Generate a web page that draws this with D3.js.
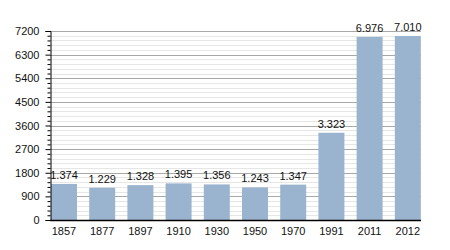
<!DOCTYPE html>
<html><head><meta charset="utf-8">
<script src="https://cdn.jsdelivr.net/npm/d3@7"></script>
<style>html,body{margin:0;padding:0;background:#fff;}svg{display:block;}</style>
</head><body>
<svg id="c" width="450" height="250"></svg>
<script>
const years = ["1857","1877","1897","1910","1930","1950","1970","1991","2011","2012"];
const population = [1374,1229,1328,1395,1356,1243,1347,3323,6976,7010];
const valueLabels = ["1.374","1.229","1.328","1.395","1.356","1.243","1.347","3.323","6.976","7.010"];
const majorTicks = [0,900,1800,2700,3600,4500,5400,6300,7200];

(function(){
const svg = d3.select("#c");
const pLeft = 50, pRight = 421, pTop = 31, pBottom = 220;
const y = d3.scaleLinear().domain([0,7200]).range([pBottom, pTop]);
const x = d3.scaleBand().domain(years).range([51, 420.8]).paddingInner(0.32).paddingOuter(0);
const minorTicks = d3.range(0, 7201, 180).filter(v => v % 900 !== 0);
const font = "Liberation Sans, Arial, sans-serif";

svg.append("g").selectAll("line").data(minorTicks).join("line")
  .attr("x1", pLeft).attr("x2", pRight)
  .attr("y1", d => Math.round(y(d))+0.5).attr("y2", d => Math.round(y(d))+0.5)
  .attr("stroke", "#e6e6e6").attr("stroke-width", 1);
svg.append("g").selectAll("line").data(majorTicks.filter(d=>d>0)).join("line")
  .attr("x1", pLeft).attr("x2", pRight)
  .attr("y1", d => Math.round(y(d))+0.5).attr("y2", d => Math.round(y(d))+0.5)
  .attr("stroke", "#a8a8a8").attr("stroke-width", 1);

svg.append("g").selectAll("rect").data(population).join("rect")
  .attr("x", (d,i) => x(years[i]))
  .attr("width", x.bandwidth())
  .attr("y", d => y(d))
  .attr("height", d => pBottom - y(d))
  .attr("fill", "#9ab3cf");

svg.append("g").selectAll("text").data(population).join("text")
  .attr("x", (d,i) => x(years[i]) + x.bandwidth()/2)
  .attr("y", d => y(d) - 5)
  .attr("text-anchor", "middle")
  .attr("font-family", font).attr("font-size", 11).attr("fill", "#111")
  .text((d,i) => valueLabels[i]);

const yAxis = d3.axisLeft(y).tickValues(majorTicks).tickSize(5).tickPadding(6).tickFormat(d3.format("d"));
const ga = svg.append("g").attr("transform", `translate(${pLeft+0.5},0)`).call(yAxis);
ga.select(".domain").attr("stroke", "#000");
ga.selectAll(".tick line").attr("stroke", "#000");
ga.selectAll("text").attr("font-family", font).attr("font-size", 11).attr("fill", "#111");
const yMinor = d3.axisLeft(y).tickValues(minorTicks).tickSize(3).tickFormat("");
const gm = svg.append("g").attr("transform", `translate(${pLeft+0.5},0)`).call(yMinor);
gm.select(".domain").remove();
gm.selectAll(".tick line").attr("stroke", "#000");

const xAxis = d3.axisBottom(x).tickSize(0).tickPadding(7);
const gx = svg.append("g").attr("transform", `translate(0,${pBottom+0.5})`).call(xAxis);
gx.select(".domain").remove();
gx.selectAll("text").attr("font-family", font).attr("font-size", 11).attr("fill", "#111");
svg.append("line").attr("x1", pLeft).attr("x2", pRight)
  .attr("y1", pBottom+0.5).attr("y2", pBottom+0.5).attr("stroke", "#000").attr("stroke-width", 1.5);
})();
</script>
</body></html>
